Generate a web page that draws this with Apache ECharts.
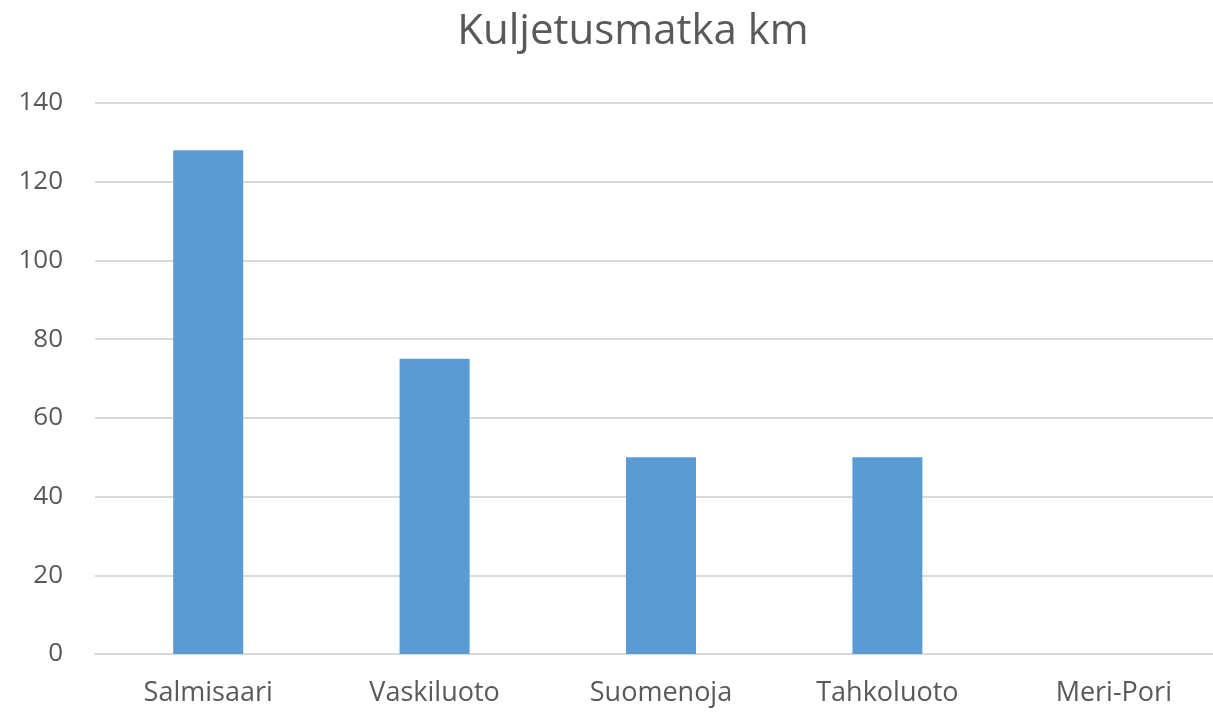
<!DOCTYPE html>
<html><head><meta charset="utf-8">
<script src="https://cdn.jsdelivr.net/npm/echarts@6/dist/echarts.min.js"></script>
<style>html,body{margin:0;padding:0;background:#fff}#c{width:1213px;height:712px}</style>
</head><body><div id="c"></div>
<script>
const categories = ['Salmisaari', 'Vaskiluoto', 'Suomenoja', 'Tahkoluoto', 'Meri-Pori'];
const distanceKm = [128, 75, 50, 50, 0];
const yTicks = {min: 0, max: 140, interval: 20};

const chart = echarts.init(document.getElementById('c'), null, {renderer: 'canvas'});
chart.setOption({
  animation: false,
  title: {
    text: 'Kuljetusmatka km',
    left: 628, top: 6, textAlign: 'center',
    textStyle: {fontFamily: 'Open Sans', fontSize: 42, fontWeight: 'normal', color: '#595959'}
  },
  grid: {left: 95, width: 1132, top: 103, bottom: 58, containLabel: false, outerBoundsMode: 'none'},
  xAxis: {
    type: 'category', data: categories,
    axisLine: {lineStyle: {color: '#d9d9d9', width: 2}},
    axisTick: {show: false},
    axisLabel: {fontFamily: 'Open Sans', fontSize: 27, color: '#595959', margin: 26}
  },
  yAxis: {
    type: 'value', min: yTicks.min, max: yTicks.max, interval: yTicks.interval,
    axisLine: {show: false}, axisTick: {show: false},
    splitLine: {lineStyle: {color: '#d9d9d9', width: 2}},
    axisLabel: {fontFamily: 'Open Sans', fontSize: 26, color: '#595959', margin: 32}
  },
  series: [{
    type: 'bar', data: distanceKm, barWidth: 70,
    itemStyle: {color: '#5b9bd5'}
  }]
});
</script></body></html>
